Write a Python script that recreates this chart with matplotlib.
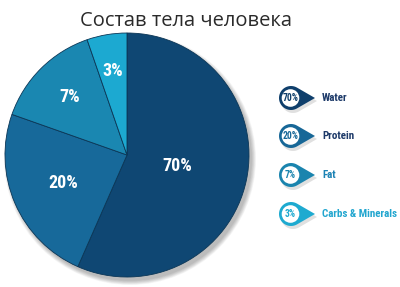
import numpy as np
import matplotlib
matplotlib.use("Agg")
import matplotlib.pyplot as plt
from matplotlib.patches import Circle, Polygon

# ── Data ──────────────────────────────────────────────────────────────────────
categories = ["Water", "Protein", "Fat", "Carbs & Minerals"]
labels     = ["70%", "20%", "7%", "3%"]
# wedge sizes as drawn in the reference (share of the circle, %)
wedge_size = [56.6, 23.8, 14.3, 5.3]

# ── Palette ───────────────────────────────────────────────────────────────────
C_SLICE  = ["#0f4773", "#17699a", "#1a87b1", "#1ca9d1"]
C_RING   = ["#0f3f6c", "#176797", "#1a84ae", "#1eaad0"]
C_TEXT   = ["#1d3a69", "#1d3a69", "#1c82b4", "#22a6cf"]
EDGE     = "#0b3656"
NARROW   = ["Roboto Condensed", "Liberation Sans Narrow", "Roboto", "DejaVu Sans"]

W, H = 400, 287
fig = plt.figure(figsize=(W / 100, H / 100), dpi=100, facecolor="white")
ax = fig.add_axes([0, 0, 1, 1])

cx, cy, R = 127, H - 155, 122

# soft drop shadow behind the pie
for i in range(8):
    ax.add_patch(Circle((cx + 3, cy - 4), R + 4 - i * 0.6, color="#000000",
                        alpha=0.035, lw=0, zorder=1))

wedges, _ = ax.pie(wedge_size, colors=C_SLICE, startangle=90, counterclock=False,
                   center=(cx, cy), radius=R, frame=True,
                   wedgeprops={"edgecolor": EDGE, "linewidth": 0.6, "zorder": 2})
ax.set_xlim(0, W)
ax.set_ylim(0, H)
ax.set_aspect("equal")
ax.set_axis_off()

# percentage labels inside the slices
label_r = [0.42, 0.57, 0.67, 0.70]
for w, lab, fr in zip(wedges, labels, label_r):
    mid = np.deg2rad((w.theta1 + w.theta2) / 2)
    ax.text(cx + fr * R * np.cos(mid), cy + fr * R * np.sin(mid), lab,
            ha="center", va="center", color="white", fontsize=13,
            fontweight="bold", family=NARROW, zorder=5)

# title
ax.text(186, H - 21, "Состав тела человека", ha="center", va="center",
        fontsize=14.5, color="#2a2a2a", family=["Open Sans", "DejaVu Sans"],
        zorder=5)

# ── Legend: teardrop markers ─────────────────────────────────────────────────
def drop(x, y, r, d):
    phi = np.arccos(r / d)
    t = np.linspace(phi, 2 * np.pi - phi, 60)
    pts = np.column_stack([x + r * np.cos(t), y + r * np.sin(t)])
    return np.vstack([pts, [x + d, y]])

leg_y = [98, 136, 175, 214]
mx = 291
for yy, cat, lab, cr, ct in zip(leg_y, categories, labels, C_RING, C_TEXT):
    y = H - yy
    ax.add_patch(Polygon(drop(mx + 2, y - 3, 12, 24), closed=True,
                         color="#000000", alpha=0.12, lw=0, zorder=3))
    ax.add_patch(Polygon(drop(mx, y, 12, 24), closed=True, color=cr,
                         lw=0, zorder=4))
    ax.add_patch(Circle((mx - 0.5, y), 8.8, color="white", lw=0, zorder=5))
    ax.text(mx - 0.5, y, lab, ha="center", va="center", fontsize=6.9,
            fontweight="bold", color=cr, family=NARROW, zorder=6)
    ax.text(322, y, cat, ha="left", va="center", fontsize=7.9,
            fontweight="bold", color=ct, family=NARROW, zorder=6)

fig.savefig("out.png", dpi=100, facecolor="white")
